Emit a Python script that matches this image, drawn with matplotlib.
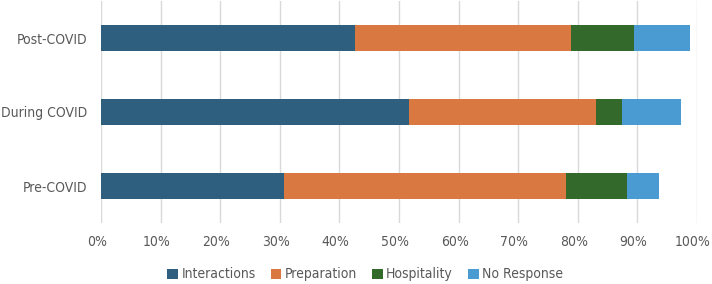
import numpy as np
import matplotlib
matplotlib.use("Agg")
import matplotlib.pyplot as plt
import matplotlib.transforms as mtransforms
from matplotlib.ticker import PercentFormatter

periods = ["Pre-COVID", "During COVID", "Post-COVID"]
series = ["Interactions", "Preparation", "Hospitality", "No Response"]

# shares in percent, order matches periods
interactions = [30.7, 51.6, 42.7]
preparation = [47.4, 31.5, 36.2]
hospitality = [10.1, 4.3, 10.5]
no_response = [5.4, 9.9, 9.5]

colors = ["#2E5F7F", "#DA7842", "#33692A", "#4A9BD2"]

plt.rcParams["font.family"] = ["DejaVu Sans"]
plt.rcParams["font.stretch"] = "condensed"

fig = plt.figure(figsize=(7.12, 2.84), dpi=100)
ax = fig.add_axes([101 / 712, 1 - 223 / 284, 596 / 712, 222 / 284])

y = np.arange(len(periods))
left = np.zeros(len(periods))
for name, vals, c in zip(series, [interactions, preparation, hospitality, no_response], colors):
    ax.barh(y, vals, left=left, height=0.35, color=c, label=name, zorder=3)
    left += np.array(vals)

ax.set_xlim(0, 100)
ax.set_ylim(-0.5, 2.5)
ax.set_xticks(np.arange(0, 101, 10))
ax.xaxis.set_major_formatter(PercentFormatter(decimals=0))
ax.set_yticks(y)
ax.set_yticklabels(periods)
ax.grid(True, axis="x", color="#D9D9D9", linewidth=1, zorder=0)
for s in ax.spines.values():
    s.set_visible(False)
ax.tick_params(length=0, labelsize=10, colors="#595959", pad=10)
ax.tick_params(axis="x", pad=9)

# nudge x labels a little left so 100% stays inside
shift = mtransforms.ScaledTranslation(-4 / 100, 0, fig.dpi_scale_trans)
for lbl in ax.get_xticklabels():
    lbl.set_transform(lbl.get_transform() + shift)

fig.legend(loc="lower center", bbox_to_anchor=(0.513, -0.035), ncol=4, frameon=False,
           fontsize=10, labelcolor="#595959", handlelength=0.75, handleheight=0.75,
           handletextpad=0.25, columnspacing=1.1)

fig.savefig("out.png", dpi=100)
